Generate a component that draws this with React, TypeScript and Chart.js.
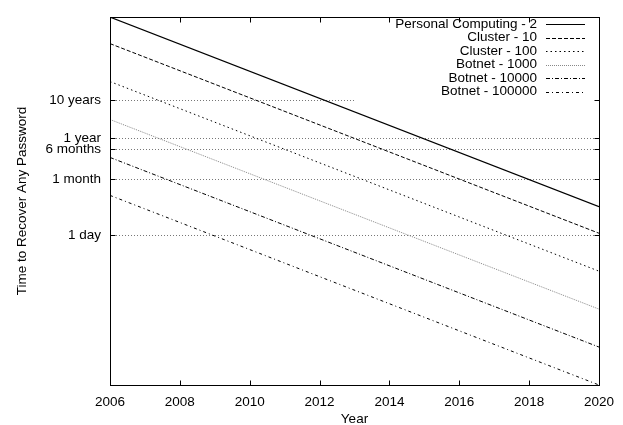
import React, { useEffect, useRef } from "react";
import { Chart, registerables } from "chart.js";

Chart.register(...registerables);

// ---- data (time in days) ----
const years = [2006, 2020];
const personal2 = [557000, 5.6];
const cluster10 = [111400, 1.12];
const cluster100 = [11140, 0.112];
const botnet1000 = [1114, 0.0112];
const botnet10000 = [111.4, 0.00112];
const botnet100000 = [11.14, 0.000112];

const seriesLabels = [
  "Personal Computing - 2",
  "Cluster - 10",
  "Cluster - 100",
  "Botnet - 1000",
  "Botnet - 10000",
  "Botnet - 100000",
];

const yTickValues = [1, 30, 182.5, 365, 3650];
const yTickLabels = ["1 day", "1 month", "6 months", "1 year", "10 years"];
const gridEndYears = [2020, 2020, 2020, 2020, 2013];

const FONT = "'Liberation Sans', Arial, Helvetica, sans-serif";
const FS = 13.5;

const framePlugin = {
  id: "gnuFrame",
  beforeDatasetsDraw(chart: any) {
    const { ctx, chartArea: a, scales } = chart;
    const y = scales.y;
    const x = scales.x;
    ctx.save();
    ctx.strokeStyle = "#777";
    ctx.lineWidth = 1;
    ctx.setLineDash([1, 2]);
    yTickValues.forEach((v, i) => {
      const py = Math.round(y.getPixelForValue(v)) + 0.5;
      const xe = x.getPixelForValue(gridEndYears[i]);
      ctx.beginPath();
      ctx.moveTo(a.left, py);
      ctx.lineTo(xe, py);
      ctx.stroke();
    });
    ctx.restore();
  },
  afterDatasetsDraw(chart: any) {
    const { ctx, chartArea: a, scales } = chart;
    const y = scales.y;
    const x = scales.x;
    ctx.save();
    ctx.strokeStyle = "#000";
    ctx.lineWidth = 1;
    ctx.setLineDash([]);
    const L = Math.round(a.left) + 0.5;
    const R = Math.round(a.right) + 0.5;
    const T = Math.round(a.top) + 0.5;
    const B = Math.round(a.bottom) + 0.5;
    ctx.strokeRect(L, T, R - L, B - T);
    const tl = 5;
    ctx.beginPath();
    yTickValues.forEach((v) => {
      const py = Math.round(y.getPixelForValue(v)) + 0.5;
      ctx.moveTo(L, py);
      ctx.lineTo(L + tl, py);
      ctx.moveTo(R, py);
      ctx.lineTo(R - tl, py);
    });
    for (let yr = 2006; yr <= 2020; yr += 2) {
      const px = Math.round(x.getPixelForValue(yr)) + 0.5;
      ctx.moveTo(px, B);
      ctx.lineTo(px, B - tl);
      ctx.moveTo(px, T);
      ctx.lineTo(px, T + tl);
    }
    ctx.stroke();

    // legend (gnuplot style: right-aligned text, sample on the right)
    ctx.font = `${FS}px ${FONT}`;
    ctx.fillStyle = "#000";
    ctx.textAlign = "right";
    ctx.textBaseline = "middle";
    chart.data.datasets.forEach((ds: any, i: number) => {
      const ly = 24 + i * 13.5;
      ctx.fillText(ds.label, 537, ly);
      ctx.save();
      ctx.strokeStyle = ds.borderColor;
      ctx.lineWidth = ds.borderWidth;
      ctx.setLineDash(ds.borderDash || []);
      ctx.beginPath();
      ctx.moveTo(546, Math.round(ly) + 0.5);
      ctx.lineTo(585, Math.round(ly) + 0.5);
      ctx.stroke();
      ctx.restore();
    });
    ctx.restore();
  },
};

export default function App() {
  const ref = useRef<HTMLCanvasElement | null>(null);
  useEffect(() => {
    document.body.style.margin = "0";
    const seriesData = [personal2, cluster10, cluster100, botnet1000, botnet10000, botnet100000];
    const styles = [
      { color: "#000", dash: [] as number[], width: 1.2 },
      { color: "#000", dash: [4, 2], width: 1 },
      { color: "#000", dash: [1.5, 3], width: 1 },
      { color: "#888", dash: [1, 1], width: 1 },
      { color: "#000", dash: [4, 2, 1, 2], width: 1 },
      { color: "#000", dash: [3, 3, 1, 3], width: 1 },
    ];
    Chart.defaults.font.family = FONT;
    Chart.defaults.font.size = FS;
    Chart.defaults.color = "#000";
    const chart = new Chart(ref.current!, {
      type: "line",
      data: {
        datasets: seriesData.map((vals, i) => ({
          label: seriesLabels[i],
          data: years.map((yr, j) => ({ x: yr, y: vals[j] })),
          borderColor: styles[i].color,
          borderDash: styles[i].dash,
          borderWidth: styles[i].width,
          pointRadius: 0,
          fill: false,
          tension: 0,
        })),
      },
      plugins: [framePlugin],
      options: {
        animation: false,
        responsive: false,
        layout: { padding: { left: 0, right: 22, top: 12, bottom: 0 } },
        plugins: { legend: { display: false }, tooltip: { enabled: false } },
        scales: {
          x: {
            type: "linear",
            min: 2006,
            max: 2020,
            grid: { display: false, drawTicks: false },
            border: { display: false },
            ticks: { stepSize: 2, padding: 9, maxRotation: 0, callback: (v: any) => String(v) },
            title: { display: true, text: "Year", padding: { top: 0, bottom: -2 } },
            afterFit: (s: any) => {
              s.height = 40;
            },
          },
          y: {
            type: "logarithmic",
            min: 0.000112,
            max: 557000,
            grid: { display: false, drawTicks: false },
            border: { display: false },
            afterBuildTicks: (s: any) => {
              s.ticks = yTickValues.map((v) => ({ value: v }));
            },
            ticks: {
              autoSkip: false,
              padding: 9,
              callback: (v: any) => {
                const idx = yTickValues.indexOf(Number(v));
                return idx >= 0 ? yTickLabels[idx] : "";
              },
            },
            title: { display: true, text: "Time to Recover Any Password", padding: { top: 14, bottom: 0 } },
            afterFit: (s: any) => {
              s.width = 110;
            },
          },
        },
      },
    });
    return () => chart.destroy();
  }, []);
  return <canvas ref={ref} width={623} height={425} style={{ display: "block" }} />;
}
